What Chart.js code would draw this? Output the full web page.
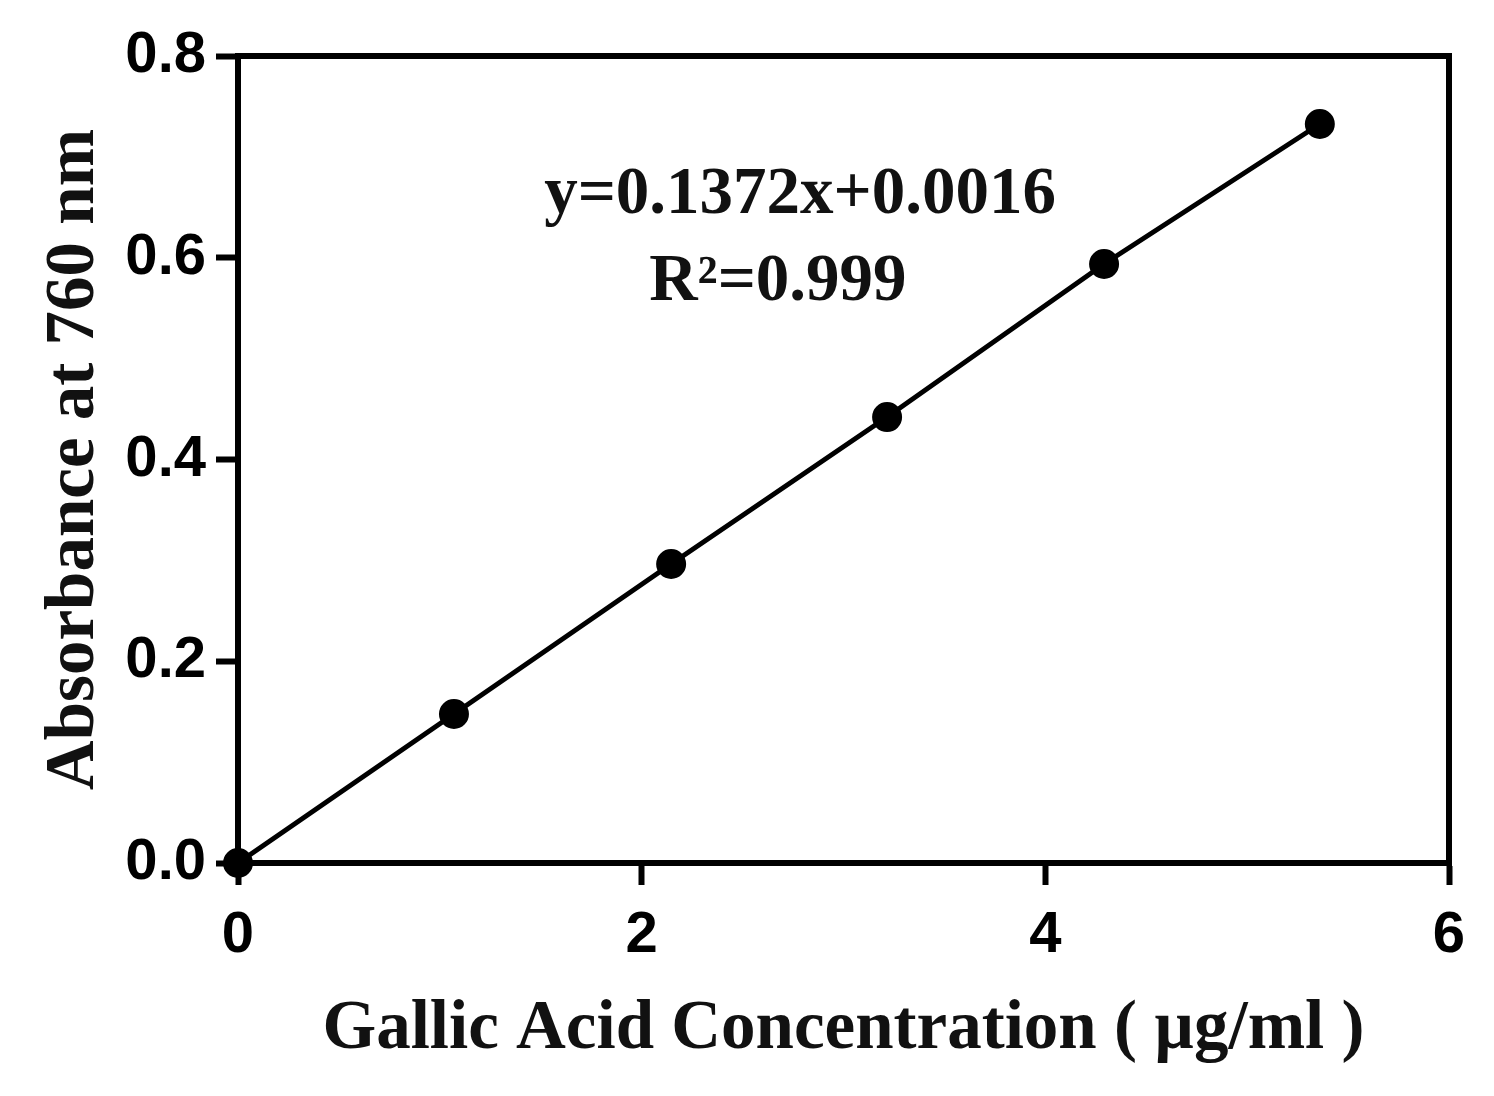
<!DOCTYPE html>
<html>
<head>
<meta charset="utf-8">
<script src="https://cdn.jsdelivr.net/npm/chart.js@4/dist/chart.umd.min.js"></script>
<style>
html,body{margin:0;padding:0;background:#fff;}
#wrap{width:1494px;height:1096px;position:relative;}
</style>
</head>
<body>
<div id="wrap"><canvas id="c" width="1494" height="1096"></canvas></div>
<script>
const concentrations = [0, 1.07, 2.146, 3.216, 4.291, 5.36];
const absorbances = [0, 0.1477, 0.2964, 0.4421, 0.5938, 0.7326];
const xTicks = [0, 2, 4, 6];
const yTicks = [0.0, 0.2, 0.4, 0.6, 0.8];
const xTitle = 'Gallic Acid Concentration ( \u00b5g/ml )';
const yTitle = 'Absorbance at 760 nm';
const equationLines = ['y=0.1372x+0.0016', 'R\u00b2=0.999'];
const equationX = [2.785, 2.675];
const equationY = [0.662, 0.575];

const points = concentrations.map((x, i) => ({x: x, y: absorbances[i]}));

const frame = {
  id: 'frame',
  afterDraw(chart) {
    const {ctx, chartArea: a} = chart;
    ctx.save();
    ctx.strokeStyle = '#000';
    ctx.lineWidth = 6;
    ctx.lineCap = 'square';
    ctx.beginPath();
    ctx.moveTo(a.left, a.top);
    ctx.lineTo(a.right, a.top);
    ctx.lineTo(a.right, a.bottom);
    ctx.stroke();
    const xs = chart.scales.x, ys = chart.scales.y;
    ctx.fillStyle = '#111';
    ctx.font = 'bold 67px "Liberation Serif", "Times New Roman", serif';
    ctx.textAlign = 'center';
    ctx.textBaseline = 'middle';
    equationLines.forEach((t, i) => {
      ctx.fillText(t, xs.getPixelForValue(equationX[i]), ys.getPixelForValue(equationY[i]));
    });
    ctx.restore();
  }
};

const tickFont = {family: '"Liberation Sans", Arial, sans-serif', size: 58, weight: 'bold'};
const titleFont = {family: '"Liberation Serif", "Times New Roman", serif', size: 69, weight: 'bold'};

new Chart(document.getElementById('c'), {
  type: 'scatter',
  data: {
    datasets: [{
      data: points,
      showLine: true,
      borderColor: '#000',
      borderWidth: 5,
      backgroundColor: '#000',
      pointBackgroundColor: '#000',
      pointBorderColor: '#000',
      pointRadius: 14,
      pointBorderWidth: 2,
      clip: false
    }]
  },
  options: {
    responsive: false,
    animation: false,
    devicePixelRatio: 1,
    layout: {padding: {left: 0, top: 56, right: 45, bottom: 0}},
    plugins: {legend: {display: false}, tooltip: {enabled: false}},
    scales: {
      x: {
        type: 'linear',
        min: 0, max: 6,
        afterBuildTicks(s) { s.ticks = xTicks.map(v => ({value: v})); },
        afterFit(s) { s.height = 233; },
        grid: {display: true, drawOnChartArea: false, drawTicks: true, tickLength: 22, tickWidth: 6, tickColor: '#000'},
        border: {display: true, color: '#000', width: 6},
        ticks: {color: '#000', font: tickFont, padding: 16, maxRotation: 0, callback: v => String(v)},
        title: {display: true, text: xTitle, color: '#111', font: titleFont, padding: {top: 0, bottom: 24}}
      },
      y: {
        type: 'linear',
        min: 0, max: 0.8,
        afterBuildTicks(s) { s.ticks = yTicks.map(v => ({value: v})); },
        afterFit(s) { s.width = 238; },
        grid: {display: true, drawOnChartArea: false, drawTicks: true, tickLength: 22, tickWidth: 6, tickColor: '#000'},
        border: {display: true, color: '#000', width: 6},
        ticks: {color: '#000', font: tickFont, padding: 10, callback: v => v.toFixed(1)},
        title: {display: true, text: yTitle, color: '#111', font: titleFont, padding: {top: 34, bottom: 0}}
      }
    }
  },
  plugins: [frame]
});
</script>
</body>
</html>
